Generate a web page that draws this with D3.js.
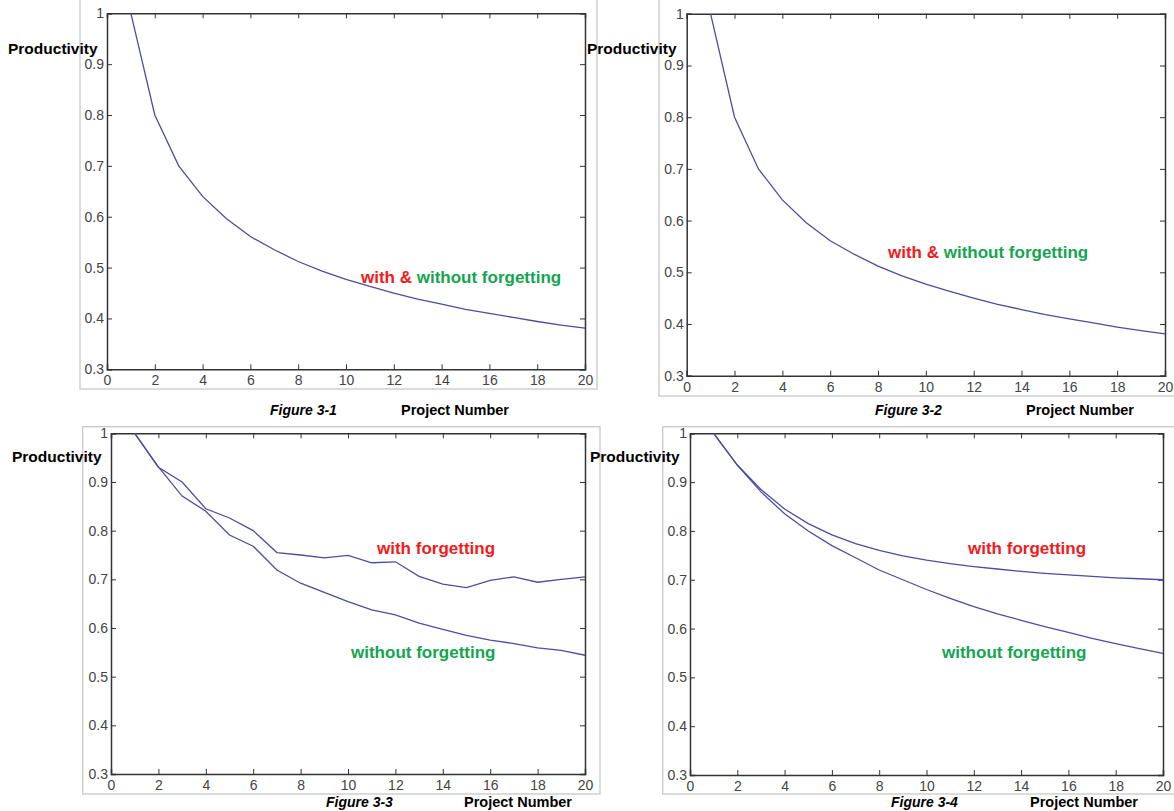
<!DOCTYPE html>
<html>
<head>
<meta charset="utf-8">
<script src="https://cdn.jsdelivr.net/npm/d3@7"></script>
<style>
  body { margin: 0; background: #fff; }
  .lbl { font-family: "Liberation Sans", Arial, sans-serif; font-weight: bold; }
  svg .tick text { font-size: 14px; font-family: "Liberation Sans", Arial, sans-serif; }
</style>
</head>
<body>
<div id="chart"></div>
<script>
// project numbers on the x axis
var projects = [1, 2, 3, 4, 5, 6, 7, 8, 9, 10, 11, 12, 13, 14, 15, 16, 17, 18, 19, 20];

// figure 3-1 and 3-2 : same curve (with & without forgetting)
var fig1Values = [1.0, 0.80, 0.70, 0.64, 0.596, 0.561, 0.535, 0.512, 0.493, 0.477,
                  0.463, 0.450, 0.438, 0.428, 0.418, 0.410, 0.402, 0.394, 0.387, 0.381];
var fig2Values = [1.0, 0.80, 0.70, 0.64, 0.596, 0.561, 0.535, 0.512, 0.493, 0.477,
                  0.463, 0.450, 0.438, 0.428, 0.418, 0.410, 0.402, 0.394, 0.387, 0.381];

// figure 3-3
var fig3With = [1.0, 0.93, 0.90, 0.845, 0.826, 0.80, 0.755, 0.75, 0.744, 0.749,
                0.734, 0.736, 0.706, 0.69, 0.683, 0.698, 0.705, 0.694, 0.70, 0.705];
var fig3Without = [1.0, 0.931, 0.871, 0.84, 0.791, 0.768, 0.719, 0.692, 0.673, 0.654,
                   0.637, 0.627, 0.610, 0.597, 0.585, 0.575, 0.568, 0.559, 0.554, 0.544];

// figure 3-4
var fig4With = [1.0, 0.935, 0.885, 0.845, 0.815, 0.792, 0.774, 0.760, 0.749, 0.740,
                0.733, 0.727, 0.722, 0.717, 0.713, 0.710, 0.707, 0.704, 0.702, 0.700];
var fig4Without = [1.0, 0.935, 0.880, 0.835, 0.800, 0.770, 0.745, 0.720, 0.700, 0.680,
                   0.662, 0.645, 0.630, 0.617, 0.604, 0.592, 0.580, 0.569, 0.559, 0.549];

var xTicks = [0, 2, 4, 6, 8, 10, 12, 14, 16, 18, 20];
var yTicks = [0.3, 0.4, 0.5, 0.6, 0.7, 0.8, 0.9, 1];

var figureNames = ["Figure 3-1", "Figure 3-2", "Figure 3-3", "Figure 3-4"];
var yLabel = "Productivity";
var xLabel = "Project Number";

var lineColor = "#4d4d9f";
var red = "#f21b1b";
var green = "#13a54f";

var svg = d3.select("#chart").append("svg")
    .attr("width", 1174)
    .attr("height", 811);

// panel layout (plot box + gray outer frame)
var panels = [
  { series: [fig1Values], box: [107, 585, 13.3, 369.3], frame: [80, -2, 597, 389],
    prod: [8, 54], fig: [270, 415], pn: [401, 415],
    notes: [{ x: 361, y: 283, parts: [["with & ", red], ["without forgetting", green]] }] },
  { series: [fig2Values], box: [686.7, 1165, 13.8, 375.7], frame: [659, -2, 1180, 396],
    prod: [587, 54], fig: [875, 415], pn: [1026, 415],
    notes: [{ x: 888, y: 258, parts: [["with & ", red], ["without forgetting", green]] }] },
  { series: [fig3With, fig3Without], box: [111, 585, 433.3, 774], frame: [82.7, 426.7, 600, 794],
    prod: [12, 462], fig: [326, 807], pn: [464, 807],
    notes: [{ x: 377, y: 554, parts: [["with forgetting", red]] },
            { x: 351, y: 658, parts: [["without forgetting", green]] }] },
  { series: [fig4With, fig4Without], box: [690, 1163, 433.3, 775], frame: [662.7, 426.7, 1180, 794],
    prod: [590, 462], fig: [891, 807], pn: [1030, 807],
    notes: [{ x: 968, y: 554, parts: [["with forgetting", red]] },
            { x: 942, y: 658, parts: [["without forgetting", green]] }] }
];

panels.forEach(function(p, i){
    var f = p.frame;
    svg.append("rect")
        .attr("x", f[0]).attr("y", f[1])
        .attr("width", f[2] - f[0]).attr("height", f[3] - f[1])
        .attr("fill", "#fff")
        .attr("stroke", "#c4c4c4")
        .attr("stroke-width", 1.2);

    var x = d3.scaleLinear().domain([0, 20]).range([p.box[0], p.box[1]]);
    var y = d3.scaleLinear().domain([0.3, 1]).range([p.box[3], p.box[2]]);

    var g = svg.append("g");

    // matlab style axes: ticks point inward on all four sides
    var xg = g.append("g")
        .attr("transform", "translate(0," + p.box[3] + ")")
        .call(d3.axisBottom(x).tickValues(xTicks).tickSize(-5).tickPadding(6).tickFormat(function(d){ return d; }));
    var yg = g.append("g")
        .attr("transform", "translate(" + p.box[0] + ",0)")
        .call(d3.axisLeft(y).tickValues(yTicks).tickSize(-5).tickPadding(3).tickFormat(function(d){ return d; }));
    xg.attr("font-size", 14).attr("font-family", "Liberation Sans, Arial, sans-serif");
    yg.attr("font-size", 14).attr("font-family", "Liberation Sans, Arial, sans-serif");
    g.append("g")
        .attr("transform", "translate(0," + p.box[2] + ")")
        .call(d3.axisTop(x).tickValues(xTicks).tickSize(-5).tickFormat(""));
    g.append("g")
        .attr("transform", "translate(" + p.box[1] + ",0)")
        .call(d3.axisRight(y).tickValues(yTicks).tickSize(-5).tickFormat(""));

    g.selectAll(".domain").attr("stroke", "#333").attr("stroke-width", 1.5);
    g.selectAll(".tick line").attr("stroke", "#333");
    g.selectAll(".tick text").attr("fill", "#444");

    var line = d3.line()
        .x(function(d, j){ return x(projects[j]); })
        .y(function(d){ return y(d); });

    p.series.forEach(function(s){
        g.append("path")
            .datum(s)
            .attr("fill", "none")
            .attr("stroke", lineColor)
            .attr("stroke-width", 1.3)
            .attr("d", line);
    });

    svg.append("text").attr("class", "lbl")
        .attr("x", p.prod[0]).attr("y", p.prod[1])
        .style("font-size", "15.5px")
        .text(yLabel);

    svg.append("text").attr("class", "lbl")
        .attr("x", p.fig[0]).attr("y", p.fig[1])
        .style("font-size", "14px").style("font-style", "italic")
        .text(figureNames[i]);

    svg.append("text").attr("class", "lbl")
        .attr("x", p.pn[0]).attr("y", p.pn[1])
        .style("font-size", "14.5px")
        .text(xLabel);

    p.notes.forEach(function(n){
        var t = svg.append("text").attr("class", "lbl")
            .attr("x", n.x).attr("y", n.y)
            .style("font-size", "17px");
        n.parts.forEach(function(pt){
            t.append("tspan").attr("fill", pt[1]).text(pt[0]);
        });
    });
});
</script>
</body>
</html>
